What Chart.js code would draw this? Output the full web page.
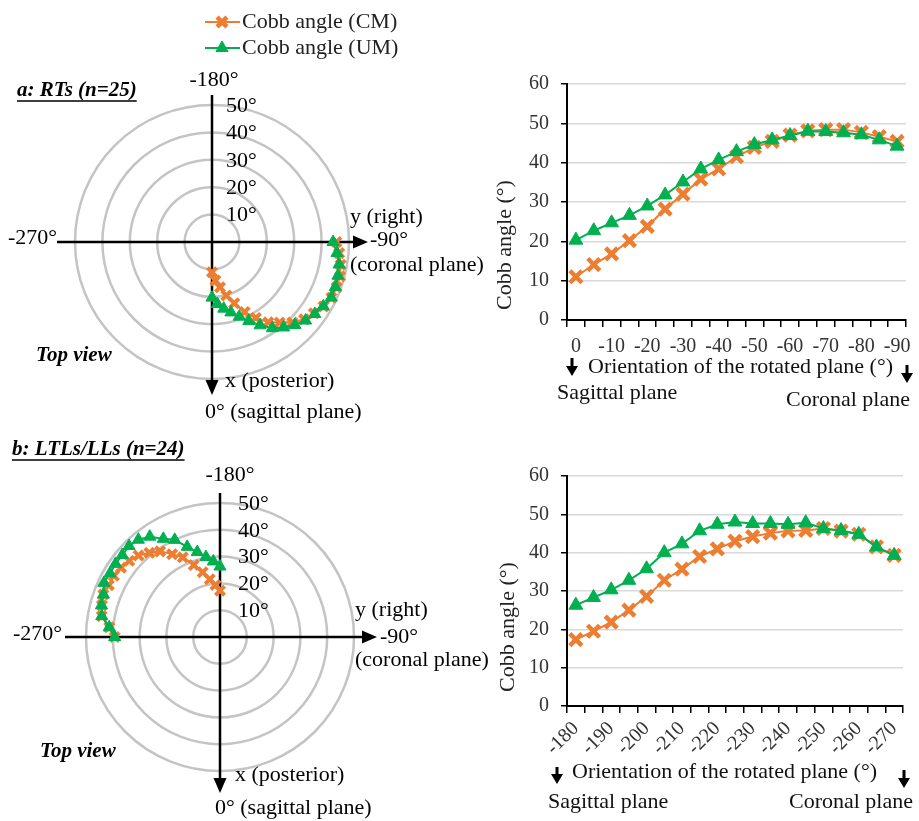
<!DOCTYPE html>
<html>
<head>
<meta charset="utf-8">
<script src="https://cdn.jsdelivr.net/npm/chart.js@4.4.0/dist/chart.umd.min.js"></script>
<style>
  html, body { margin: 0; padding: 0; background: #fff; }
  body { width: 919px; height: 821px; position: relative; overflow: hidden; }
  canvas { position: absolute; }
</style>
</head>
<body>
<canvas id="polarA" width="520" height="440" style="left:0;top:0"></canvas>
<canvas id="polarB" width="520" height="381" style="left:0;top:440px"></canvas>
<canvas id="lineA" width="459" height="370" style="left:460px;top:60px"></canvas>
<canvas id="lineB" width="459" height="381" style="left:460px;top:440px"></canvas>
<script>
const FONT = "'Liberation Serif', 'Times New Roman', serif";
const ORANGE = '#ED7D31';
const GREEN = '#00B050';

// orientation of the rotated plane (deg)
const orientA = [0, -5, -10, -15, -20, -25, -30, -35, -40, -45, -50, -55, -60, -65, -70, -75, -80, -85, -90];
const orientB = [-180, -185, -190, -195, -200, -205, -210, -215, -220, -225, -230, -235, -240, -245, -250, -255, -260, -265, -270];

// Cobb angle (deg), a: RTs
const cmA = [11.0, 14.1, 16.8, 20.2, 23.8, 28.2, 32.0, 35.8, 38.4, 41.5, 43.9, 45.4, 47.0, 48.1, 48.4, 48.4, 47.7, 46.6, 45.4];
const umA = [20.3, 22.7, 24.7, 26.6, 29.0, 31.8, 35.1, 38.4, 40.7, 42.8, 44.6, 45.8, 46.9, 48.0, 47.9, 47.6, 47.1, 45.8, 44.2];
// Cobb angle (deg), b: LTLs/LLs
const cmB = [17.3, 19.5, 21.9, 25.0, 28.6, 32.8, 35.7, 39.0, 41.0, 43.0, 44.2, 45.1, 45.7, 45.8, 46.3, 45.6, 44.8, 41.5, 39.3];
const umB = [26.3, 28.3, 30.3, 32.8, 35.8, 40.0, 42.3, 45.7, 47.4, 48.0, 47.6, 47.6, 47.4, 47.8, 46.3, 45.8, 44.8, 41.5, 39.3];

const seriesNames = ['Cobb angle (CM)', 'Cobb angle (UM)'];
const lineTicksY = [0, 60, 10];   // min, max, step
const polarTicks = [0, 50, 10];   // min, max, step

// radar spokes every 5 deg, spoke 0 points right (-90 deg)
const spokes = Array.from({ length: 72 }, (_, i) => String(5 * i - 90));
function toSpokes(orients, values) {
  const out = new Array(72).fill(null);
  orients.forEach((o, k) => {
    const i = ((((o + 90) / 5) % 72) + 72) % 72;
    out[i] = values[k];
  });
  return out;
}

function marker(ctx, style, x, y, r, color, lw) {
  ctx.save();
  ctx.fillStyle = color;
  ctx.strokeStyle = color;
  ctx.lineWidth = lw;
  if (Chart.helpers && Chart.helpers.drawPoint) {
    Chart.helpers.drawPoint(ctx, { pointStyle: style, radius: r, borderWidth: lw, rotation: 0 }, x, y);
  } else if (style === 'crossRot') {
    const o = r * Math.SQRT1_2;
    ctx.beginPath();
    ctx.moveTo(x - o, y - o); ctx.lineTo(x + o, y + o);
    ctx.moveTo(x + o, y - o); ctx.lineTo(x - o, y + o);
    ctx.stroke();
  } else {
    ctx.beginPath();
    ctx.moveTo(x, y - r);
    ctx.lineTo(x + r * 0.866, y + r / 2);
    ctx.lineTo(x - r * 0.866, y + r / 2);
    ctx.closePath(); ctx.fill();
  }
  ctx.restore();
}

function label(ctx, str, x, y, align, font, color) {
  ctx.font = font || `22px ${FONT}`;
  ctx.textAlign = align || 'left';
  ctx.textBaseline = 'middle';
  ctx.fillStyle = color || '#000';
  ctx.fillText(str, x, y);
}

function arrowHead(ctx, x, y, dir, len, half) {
  ctx.beginPath();
  if (dir === 'right') {
    ctx.moveTo(x, y); ctx.lineTo(x - len, y - half); ctx.lineTo(x - len, y + half);
  } else {
    ctx.moveTo(x, y); ctx.lineTo(x - half, y - len); ctx.lineTo(x + half, y - len);
  }
  ctx.closePath();
  ctx.fill();
}

function downArrow(ctx, x, y1, y2) {
  ctx.save();
  ctx.strokeStyle = '#000'; ctx.fillStyle = '#000'; ctx.lineWidth = 3;
  ctx.beginPath(); ctx.moveTo(x, y1); ctx.lineTo(x, y2 - 8); ctx.stroke();
  arrowHead(ctx, x, y2, 'down', 10, 6);
  ctx.restore();
}

function polarDecor(d) {
  return {
    id: 'polarDecor',
    beforeDatasetsDraw(chart) {
      const s = chart.scales.r, ctx = chart.ctx;
      const cx = s.xCenter, cy = s.yCenter;
      ctx.save();
      ctx.strokeStyle = '#000'; ctx.fillStyle = '#000'; ctx.lineWidth = 2.5;
      ctx.beginPath();
      ctx.moveTo(cx - d.axis[0], cy); ctx.lineTo(cx + d.axis[1] - 10, cy);
      ctx.moveTo(cx, cy - d.axis[2]); ctx.lineTo(cx, cy + d.axis[3] - 10);
      ctx.stroke();
      arrowHead(ctx, cx + d.axis[1], cy, 'right', 15, 6.5);
      arrowHead(ctx, cx, cy + d.axis[3], 'down', 15, 6.5);
      ctx.restore();
    },
    afterDraw(chart) {
      const s = chart.scales.r, ctx = chart.ctx;
      const cx = s.xCenter, cy = s.yCenter;
      ctx.save();
      s.ticks.forEach(t => {
        if (t.value <= 0) return;
        const r = s.getDistanceFromCenterForValue(t.value);
        label(ctx, t.value + '°', cx + d.tickDx, cy - r + 1);
      });
      d.texts.forEach(t => label(ctx, t[0], cx + t[1], cy + t[2], t[3]));
      const bi = `italic bold 21px ${FONT}`;
      label(ctx, 'Top view', cx + d.view[0], cy + d.view[1], 'left', bi);
      const tx = cx + d.title[1], ty = cy + d.title[2];
      label(ctx, d.title[0], tx, ty, 'left', bi);
      const w = ctx.measureText(d.title[0]).width;
      ctx.strokeStyle = '#000'; ctx.lineWidth = 1.5;
      ctx.beginPath(); ctx.moveTo(tx, ty + 10); ctx.lineTo(tx + w, ty + 10); ctx.stroke();
      if (d.legend) {
        const rows = [[ORANGE, 'crossRot', 7, 4.5], [GREEN, 'triangle', 7, 1]];
        rows.forEach((row, i) => {
          const y = 22 + i * 26;
          ctx.strokeStyle = row[0]; ctx.lineWidth = 2;
          ctx.beginPath(); ctx.moveTo(205, y); ctx.lineTo(240, y); ctx.stroke();
          marker(ctx, row[1], 222, y, row[2], row[0], row[3]);
          label(ctx, seriesNames[i], 242, y, 'left', `22px ${FONT}`, '#222');
        });
      }
      ctx.restore();
    }
  };
}

function polarChart(id, orients, cm, um, pad, decor) {
  return new Chart(document.getElementById(id), {
    type: 'radar',
    data: {
      labels: spokes,
      datasets: [
        { label: seriesNames[0], data: toSpokes(orients, cm), order: 1,
          borderColor: ORANGE, backgroundColor: ORANGE, borderWidth: 2, fill: false,
          pointStyle: 'crossRot', pointRadius: 6.5, pointBorderWidth: 4 },
        { label: seriesNames[1], data: toSpokes(orients, um), order: 0,
          borderColor: GREEN, backgroundColor: GREEN, borderWidth: 2, fill: false,
          pointStyle: 'triangle', pointRadius: 7, pointBorderWidth: 1 }
      ]
    },
    options: {
      responsive: false, animation: false, events: [],
      layout: { padding: pad },
      plugins: { legend: { display: false }, tooltip: { enabled: false } },
      scales: {
        r: {
          min: polarTicks[0], max: polarTicks[1], startAngle: 90,
          ticks: { display: false, stepSize: polarTicks[2] },
          grid: { circular: true, color: '#c4c4c4', lineWidth: 2.5 },
          angleLines: { display: false },
          pointLabels: { display: false }
        }
      }
    },
    plugins: [polarDecor(decor)]
  });
}

function lineDecor(d) {
  return {
    id: 'lineDecor',
    afterDraw(chart) {
      const a = chart.chartArea, ctx = chart.ctx;
      ctx.save();
      const f = `22px ${FONT}`;
      downArrow(ctx, a.left + d.arrowL[0], a.bottom + d.arrowL[1], a.bottom + d.arrowL[2]);
      downArrow(ctx, a.right + d.arrowR[0], a.bottom + d.arrowR[1], a.bottom + d.arrowR[2]);
      label(ctx, 'Orientation of the rotated plane (°)', a.left + d.orient[0], a.bottom + d.orient[1], 'left', f, '#111');
      label(ctx, 'Sagittal plane', a.left + d.sag[0], a.bottom + d.sag[1], 'left', f, '#111');
      label(ctx, 'Coronal plane', a.right + d.cor[0], a.bottom + d.cor[1], 'right', f, '#111');
      ctx.translate(a.left + d.ytitle[0], (a.top + a.bottom) / 2 + d.ytitle[1]);
      ctx.rotate(-Math.PI / 2);
      label(ctx, 'Cobb angle (°)', 0, 0, 'center', f, '#222');
      ctx.restore();
    }
  };
}

function lineChart(id, orients, cm, um, rot, pad, xh, tickPad, decor) {
  return new Chart(document.getElementById(id), {
    type: 'line',
    data: {
      labels: orients.map(String),
      datasets: [
        { label: seriesNames[0], data: cm, order: 1,
          borderColor: ORANGE, backgroundColor: ORANGE, borderWidth: 2,
          pointStyle: 'crossRot', pointRadius: 8.5, pointBorderWidth: 4.5 },
        { label: seriesNames[1], data: um, order: 0,
          borderColor: GREEN, backgroundColor: GREEN, borderWidth: 2,
          pointStyle: 'triangle', pointRadius: 8, pointBorderWidth: 1 }
      ]
    },
    options: {
      responsive: false, animation: false, events: [],
      layout: { padding: pad },
      plugins: { legend: { display: false }, tooltip: { enabled: false } },
      scales: {
        x: {
          offset: true,
          grid: { offset: true, drawOnChartArea: false, drawTicks: true, tickLength: 7, color: '#000', lineWidth: 1.5 },
          border: { color: '#000', width: 2 },
          ticks: {
            autoSkip: false, minRotation: rot, maxRotation: rot, padding: tickPad,
            color: '#333', font: { family: FONT, size: 20 },
            callback: function (v) {
              const lab = this.getLabelForValue(v);
              return Number(lab) % 10 === 0 ? lab : '';
            }
          },
          afterFit: s => { s.height = xh; }
        },
        y: {
          min: lineTicksY[0], max: lineTicksY[1],
          ticks: { stepSize: lineTicksY[2], padding: 12, color: '#333', font: { family: FONT, size: 20 } },
          grid: { color: '#d9d9d9', lineWidth: 1.5, tickColor: '#000', tickLength: 6 },
          border: { color: '#000', width: 2 },
          afterFit: s => { s.width = 57; }
        }
      }
    },
    plugins: [lineDecor(decor)]
  });
}

polarChart('polarA', orientA, cmA, umA, { left: 75, right: 171, top: 105, bottom: 61 }, {
  axis: [155, 156, 147, 153],
  tickDx: 14,
  texts: [
    ['-180°', 2, -162, 'center'],
    ['-270°', -155, -4, 'right'],
    ['y (right)', 138, -25, 'left'],
    ['-90°', 158, -2, 'left'],
    ['(coronal plane)', 138, 23, 'left'],
    ['x (posterior)', 13, 139, 'left'],
    ['0° (sagittal plane)', -7, 170, 'left']
  ],
  view: [-176, 114],
  title: ['a: RTs (n=25)', -195, -151],
  legend: true
});

polarChart('polarB', orientB, cmB, umB, { left: 86, right: 166, top: 63, bottom: 50 }, {
  axis: [155, 157, 144, 156],
  tickDx: 18,
  texts: [
    ['-180°', 10, -162, 'center'],
    ['-270°', -158, -3, 'right'],
    ['y (right)', 135, -27, 'left'],
    ['-90°', 160, 0, 'left'],
    ['(coronal plane)', 135, 23, 'left'],
    ['x (posterior)', 15, 138, 'left'],
    ['0° (sagittal plane)', -5, 171, 'left']
  ],
  view: [-180, 115],
  title: ['b: LTLs/LLs (n=24)', -208, -187],
  legend: false
});

lineChart('lineA', orientA, cmA, umA, 0, { left: 50, right: 8, top: 24, bottom: 50 }, 60, 8, {
  arrowL: [5, 38, 56],
  arrowR: [1, 45, 63],
  orient: [21, 47],
  sag: [-10, 73],
  cor: [4, 80],
  ytitle: [-62, 43]
});

lineChart('lineB', orientB, cmB, umB, 45, { left: 50, right: 16, top: 36, bottom: 60 }, 55, 4, {
  arrowL: [-10, 61, 78],
  arrowR: [1, 64, 82],
  orient: [5, 66],
  sag: [-19, 96],
  cor: [10, 96],
  ytitle: [-59, 36]
});
</script>
</body>
</html>
